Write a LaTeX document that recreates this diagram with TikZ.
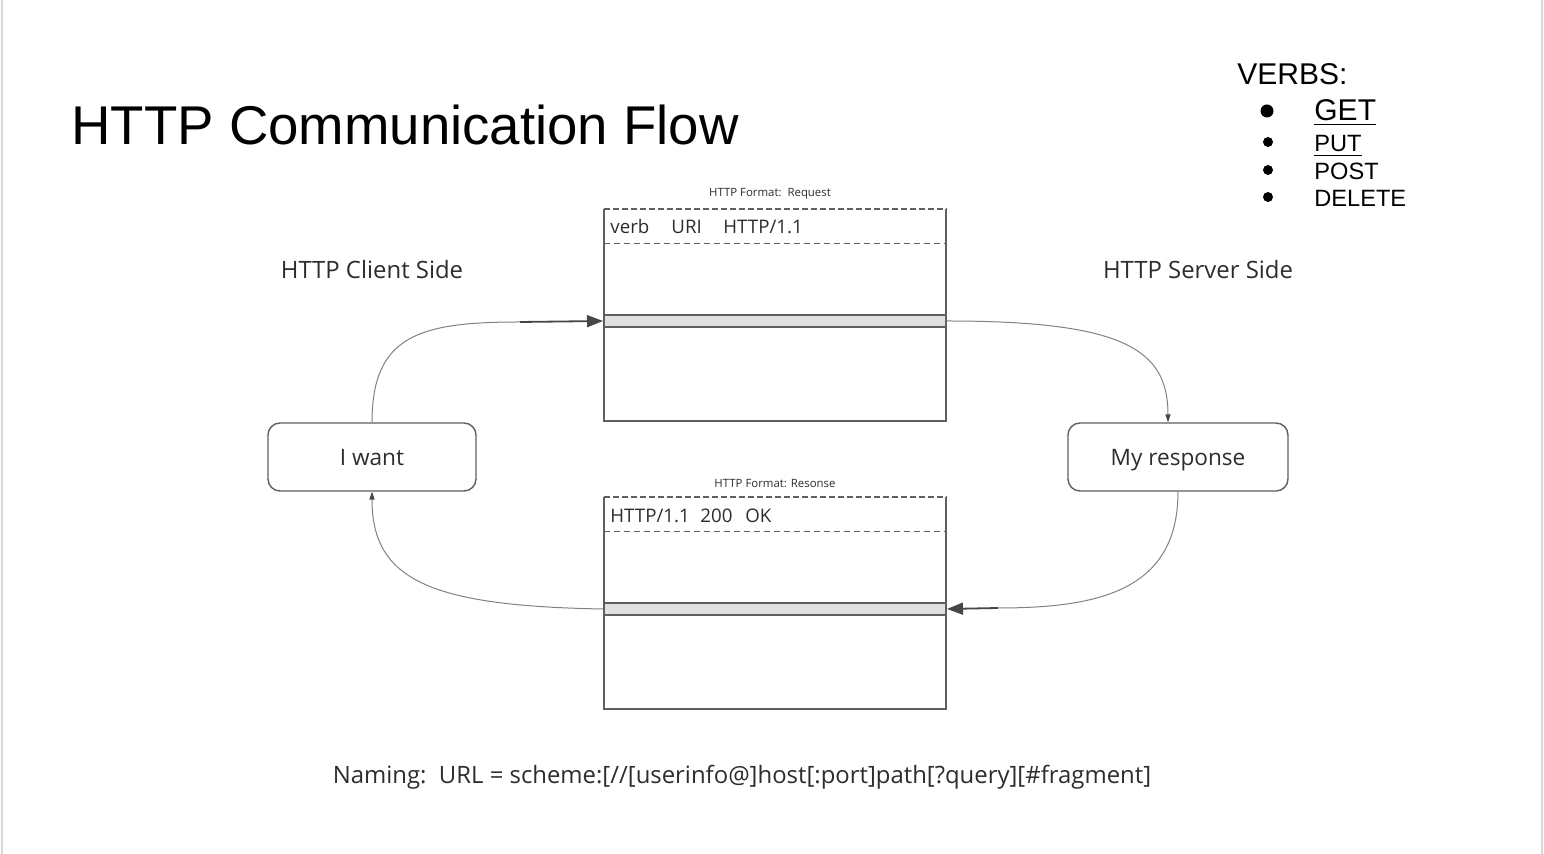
\documentclass[tikz,border=0pt]{standalone}
\usepackage{fontspec}
\setmainfont{Open Sans}
\newfontfamily\arial{Liberation Sans}
\usetikzlibrary{arrows.meta}

\definecolor{boxgray}{RGB}{95,95,95}
\definecolor{linegray}{RGB}{130,130,130}
\definecolor{tipgray}{RGB}{70,70,70}
\definecolor{bandgray}{RGB}{225,225,225}
\definecolor{textgray}{RGB}{45,45,45}
\definecolor{edgegray}{RGB}{215,215,215}

\tikzset{
    msgbox/.style={minimum width=171pt, minimum height=106pt, inner sep=0pt},
    band/.style={draw=boxgray, line width=1pt, fill=bandgray, minimum width=171pt, minimum height=6pt, inner sep=0pt},
    sidebox/.style={draw=boxgray, line width=0.7pt, rounded corners=6pt, minimum height=34pt, inner sep=0pt, text height=8.6pt, text depth=0.3pt, text=textgray, font=\fontsize{11.3}{13}\selectfont},
    flow/.style={draw=linegray, line width=0.5pt},
    flowdark/.style={draw=tipgray, line width=0.9pt},
    bigtip/.style={-{Triangle[length=8pt,width=6pt,color=tipgray]}},
    smalltip/.style={-{Triangle[length=4pt,width=2.6pt,color=tipgray]}},
    sidetext/.style={text=textgray, font=\fontsize{11.95}{14}\selectfont},
    tinytext/.style={text=textgray, font=\fontsize{5.7}{6.5}\selectfont},
    linetext/.style={anchor=base west, inner sep=0pt, text=textgray, font=\fontsize{9.35}{11}\selectfont},
}

\begin{document}
\begin{tikzpicture}[x=0.5pt,y=-0.5pt]
    \useasboundingbox (0,0) rectangle (1544,854);
    \fill[white] (0,0) rectangle (1544,854);
    \draw[edgegray, line width=1pt] (1.5,0) -- (1.5,854);
    \draw[edgegray, line width=1pt] (1541.5,0) -- (1541.5,854);

    % title and verbs
    \node[anchor=base west, inner sep=0pt, font=\arial\fontsize{27.3}{30}\selectfont] (title) at (71,145) {HTTP Communication Flow};
    \node[anchor=base west, inner sep=0pt, font=\arial\fontsize{15}{17}\selectfont] (verbs) at (1237,85) {VERBS:};
    \fill (1267,111) circle (6.5);
    \node[anchor=base west, inner sep=0pt, font=\arial\fontsize{15}{17}\selectfont] (get) at (1314,121) {\underline{GET}};
    \foreach \y/\verb/\name in {152/\underline{PUT}/put, 180/POST/post, 207/DELETE/delete}
    {
        \fill (1268,\y-10) circle (5);
        \node[anchor=base west, inner sep=0pt, font=\arial\fontsize{11.8}{14}\selectfont] (\name) at (1314,\y) {\verb};
    }

    % request and response boxes
    \foreach \name/\y in {req/315, resp/603}
    {
        \node[msgbox] (\name) at (775,\y) {};
        \draw[boxgray, line width=1pt] (\name.north west) -- (\name.south west) -- (\name.south east) -- (\name.north east);
        \draw[boxgray, line width=1pt, dashed, dash pattern=on 3pt off 1.5pt] (\name.north west) -- (\name.north east);
        \draw[boxgray, line width=0.6pt, dashed, dash pattern=on 3pt off 2pt] ([yshift=-17.5pt]\name.north west) -- ([yshift=-17.5pt]\name.north east);
    }
    \node[band] (reqband) at (775,321) {};
    \node[band] (respband) at (775,609) {};

    \node[tinytext] (reqlabel) at (770,194) {HTTP Format:\ \ Request};
    \node[tinytext] (resplabel) at (775,484) {HTTP Format: Resonse};

    \node[linetext] at (610,234) {verb};
    \node[linetext] at (671,234) {URI};
    \node[linetext] at (723,234) {HTTP/1.1};
    \node[linetext] at (610,523) {HTTP/1.1};
    \node[linetext] at (700,523) {200};
    \node[linetext] at (745,523) {OK};

    % client and server
    \node[sidetext] (client) at (372,270) {HTTP Client Side};
    \node[sidetext] (server) at (1198,270) {HTTP Server Side};
    \node[sidebox, minimum width=104pt] (iwant) at (372,457) {I want};
    \node[sidebox, minimum width=110pt] (myresp) at (1178,457) {My response};

    % flow
    \draw[flow] (iwant.north) .. controls (372,335) and (420,322) .. (520,322) coordinate (c1);
    \draw[flowdark, bigtip] (c1) -- (reqband.west);
    \draw[flow, smalltip] (reqband.east) .. controls (1125,321) and (1168,350) .. ([xshift=-5pt]myresp.north);
    \draw[flow] (myresp.south) .. controls (1178,590) and (1100,608) .. (998,608) coordinate (c3);
    \draw[flowdark, bigtip] (c3) -- (respband.east);
    \draw[flow, smalltip] (respband.west) .. controls (430,606) and (372,580) .. (iwant.south);

    \node[sidetext] (naming) at (742,777) {Naming:\ \ URL = scheme:[//[userinfo@]host[:port]path[?query][\#fragment]};
\end{tikzpicture}
\end{document}
